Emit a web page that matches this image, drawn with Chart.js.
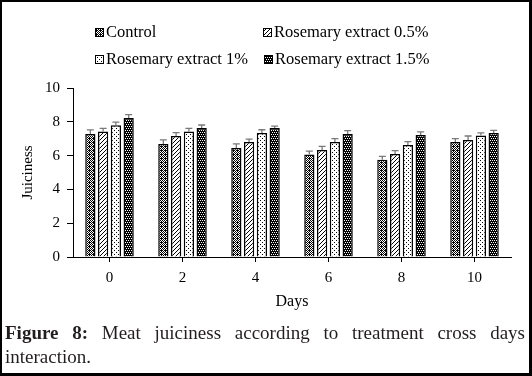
<!DOCTYPE html>
<html lang="en">
<head>
<meta charset="UTF-8">
<title>Meat juiciness</title>
<script src="https://cdn.jsdelivr.net/npm/chart.js"></script>
<style>
  body { margin: 0; background: #fff; }
  .wrap {
    position: relative;
    width: 532px;
    height: 376px;
    font-family: 'Liberation Serif', 'Times New Roman', serif;
    overflow: hidden;
  }
  .wrap canvas#chart { position: absolute; left: 0; top: 0; }
  .frame {
    position: absolute;
    inset: 0;
    border: 2px solid #000;
    border-right-width: 3px;
    border-bottom-width: 3px;
    pointer-events: none;
  }
  .leg {
    position: absolute;
    font-size: 16.5px;
    line-height: 20px;
    color: #000;
    white-space: nowrap;
  }
  .leg canvas { position: absolute; left: 0; top: 6px; }
  .leg span { position: absolute; left: 11px; top: 0; }
  .caption {
    position: absolute;
    left: 5px;
    top: 321px;
    width: 520px;
    font-size: 19px;
    line-height: 24px;
    color: #221e1f;
  }
  .caption .l1 { text-align: justify; text-align-last: justify; }
  .caption b { font-weight: bold; }
</style>
</head>
<body>
<div class="wrap">
  <canvas id="chart" width="532" height="376"></canvas>
  <div class="leg" style="left:95px; top:22px;"><canvas width="9" height="9" data-k="0"></canvas><span>Control</span></div>
  <div class="leg" style="left:263px; top:22px;"><canvas width="9" height="9" data-k="1"></canvas><span>Rosemary extract 0.5%</span></div>
  <div class="leg" style="left:95px; top:49px;"><canvas width="9" height="9" data-k="2"></canvas><span>Rosemary extract 1%</span></div>
  <div class="leg" style="left:264px; top:49px;"><canvas width="9" height="9" data-k="3"></canvas><span>Rosemary extract 1.5%</span></div>
  <div class="caption">
    <div class="l1"><b>Figure 8:</b> Meat juiciness according to treatment cross days</div>
    <div>interaction.</div>
  </div>
  <div class="frame"></div>
</div>
<script>
  // chart values
  const days = ['0', '2', '4', '6', '8', '10'];
  const seriesNames = ['Control', 'Rosemary extract 0.5%', 'Rosemary extract 1%', 'Rosemary extract 1.5%'];

  const control = [7.28, 6.69, 6.45, 6.06, 5.75, 6.80];
  const rosemary05 = [7.43, 7.16, 6.80, 6.33, 6.10, 6.92];
  const rosemary1 = [7.80, 7.43, 7.33, 6.80, 6.63, 7.19];
  const rosemary15 = [8.22, 7.63, 7.63, 7.28, 7.22, 7.33];

  const controlErr = [0.24, 0.24, 0.24, 0.20, 0.20, 0.20];
  const rosemary05Err = [0.18, 0.20, 0.18, 0.22, 0.20, 0.24];
  const rosemary1Err = [0.18, 0.18, 0.20, 0.20, 0.20, 0.16];
  const rosemary15Err = [0.20, 0.18, 0.12, 0.20, 0.18, 0.16];

  const yTicks = [0, 2, 4, 6, 8, 10];

  const FONT = "'Liberation Serif', 'Times New Roman', serif";

  // small black & white fill patterns like the original print
  function patternTile(kind) {
    const c = document.createElement('canvas');
    c.width = 4; c.height = 4;
    const g = c.getContext('2d');
    g.fillStyle = '#fff';
    g.fillRect(0, 0, 4, 4);
    g.fillStyle = '#000';
    if (kind === 0) {
      // checker
      for (let y = 0; y < 4; y++)
        for (let x = 0; x < 4; x++)
          if ((x + y) % 2 === 0) g.fillRect(x, y, 1, 1);
      g.fillRect(1, 2, 1, 1);
    } else if (kind === 1) {
      // diagonal hatch
      g.fillRect(3, 0, 1, 1); g.fillRect(2, 1, 1, 1);
      g.fillRect(1, 2, 1, 1); g.fillRect(0, 3, 1, 1);
    } else if (kind === 2) {
      // sparse dots
      g.fillRect(0, 0, 1, 1); g.fillRect(2, 2, 1, 1);
    } else {
      // dark checker
      g.fillRect(0, 0, 4, 4);
      g.fillStyle = '#fff';
      g.fillRect(0, 0, 1, 1); g.fillRect(2, 0, 1, 1);
      g.fillRect(1, 2, 1, 1); g.fillRect(3, 2, 1, 1);
    }
    return c;
  }

  const mainCtx = document.getElementById('chart').getContext('2d');
  const patterns = [0, 1, 2, 3].map(k => mainCtx.createPattern(patternTile(k), 'repeat'));

  // legend swatches
  document.querySelectorAll('.leg canvas').forEach(cv => {
    const k = +cv.dataset.k;
    const g = cv.getContext('2d');
    g.fillStyle = g.createPattern(patternTile(k), 'repeat');
    g.fillRect(0, 0, 9, 9);
    g.strokeStyle = '#000';
    g.lineWidth = 1;
    g.strokeRect(0.5, 0.5, 8, 8);
  });

  const errorBars = {
    id: 'errorBars',
    afterDatasetsDraw(chart) {
      const ctx = chart.ctx;
      const y = chart.scales.y;
      ctx.save();
      ctx.strokeStyle = '#7a7a7a';
      ctx.lineWidth = 1.3;
      chart.data.datasets.forEach((ds, i) => {
        chart.getDatasetMeta(i).data.forEach((bar, j) => {
          const top = y.getPixelForValue(ds.data[j] + ds.errors[j]);
          ctx.beginPath();
          ctx.moveTo(bar.x, bar.y);
          ctx.lineTo(bar.x, top);
          ctx.moveTo(bar.x - 3.5, top);
          ctx.lineTo(bar.x + 3.5, top);
          ctx.stroke();
        });
      });
      ctx.restore();
    }
  };

  const values = [control, rosemary05, rosemary1, rosemary15];
  const errors = [controlErr, rosemary05Err, rosemary1Err, rosemary15Err];

  new Chart(mainCtx, {
    type: 'bar',
    data: {
      labels: days,
      datasets: seriesNames.map((name, i) => ({
        label: name,
        data: values[i],
        errors: errors[i],
        backgroundColor: patterns[i],
        borderColor: '#000',
        borderWidth: 1.5,
        categoryPercentage: 0.7,
        barPercentage: 0.8
      }))
    },
    options: {
      responsive: false,
      animation: false,
      layout: { padding: { top: 88, right: 21, bottom: 64, left: 0 } },
      plugins: {
        legend: { display: false },
        tooltip: { enabled: false }
      },
      scales: {
        x: {
          grid: { drawOnChartArea: false, offset: false, tickLength: 5, color: '#000', tickColor: '#000' },
          border: { color: '#000', width: 1 },
          ticks: { color: '#000', font: { family: FONT, size: 15 }, padding: 7 },
          title: { display: true, text: 'Days', color: '#000', font: { family: FONT, size: 16 }, padding: { top: 0, bottom: 1 } },
          afterFit: s => { s.height = 55; }
        },
        y: {
          min: 0,
          max: 10,
          afterBuildTicks: s => { s.ticks = yTicks.map(v => ({ value: v })); },
          grid: { drawOnChartArea: false, tickLength: 6, color: '#000', tickColor: '#000' },
          border: { color: '#000', width: 1 },
          ticks: { color: '#000', font: { family: FONT, size: 15 }, padding: 7 },
          title: { display: true, text: 'Juiciness', color: '#000', font: { family: FONT, size: 15 }, padding: { top: 19, bottom: 0 } },
          afterFit: s => { s.width = 73; }
        }
      }
    },
    plugins: [errorBars]
  });
</script>
</body>
</html>
